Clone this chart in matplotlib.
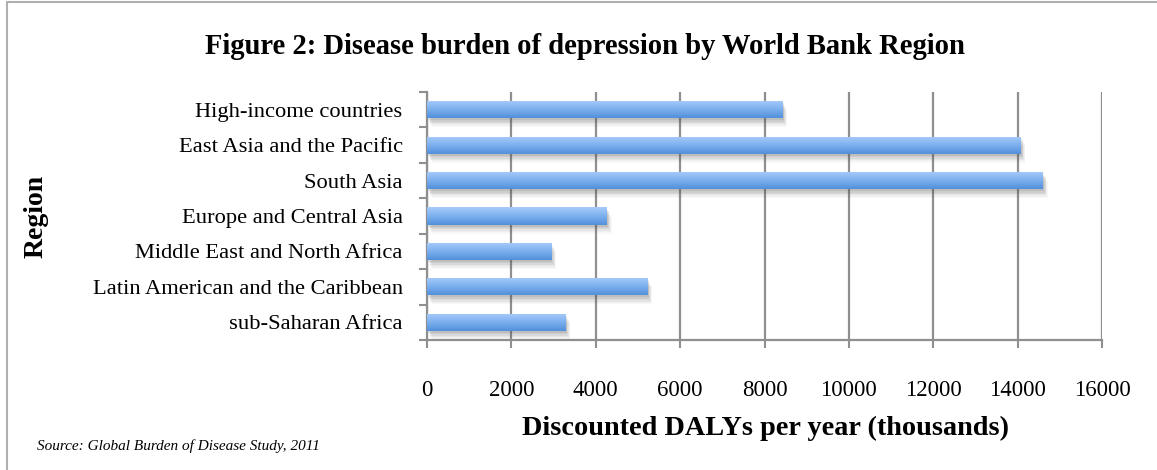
import numpy as np
import matplotlib
matplotlib.use("Agg")
import matplotlib.pyplot as plt
from matplotlib.colors import LinearSegmentedColormap
from matplotlib.patheffects import SimplePatchShadow, Normal
from matplotlib.patches import Rectangle

regions = ["High-income countries", "East Asia and the Pacific", "South Asia",
           "Europe and Central Asia", "Middle East and North Africa",
           "Latin American and the Caribbean", "sub-Saharan Africa"]
dalys = [8420, 14070, 14600, 4260, 2940, 5220, 3280]
xticks = [0, 2000, 4000, 6000, 8000, 10000, 12000, 14000, 16000]

title = "Figure 2: Disease burden of depression by World Bank Region"
xlabel = "Discounted DALYs per year (thousands)"
ylabel = "Region"
source = "Source: Global Burden of Disease Study, 2011"

serif = ["Liberation Serif", "DejaVu Serif"]
plt.rcParams['font.family'] = serif

W, H = 1157, 470
fig = plt.figure(figsize=(W / 100, H / 100), dpi=100)
ax = fig.add_axes([427 / W, 1 - 340 / H, (1102 - 427) / W, (340 - 92) / H])

grid_col = "#8f8f8f"
n = len(regions)
ypos = np.arange(n)[::-1]

shadows = []
for dx, dy, a in [(1.0, -1.5, 0.10), (1.5, -2.5, 0.09), (2.0, -3.5, 0.08),
                  (2.5, -4.5, 0.06), (3.0, -5.5, 0.05), (3.5, -6.5, 0.035)]:
    shadows.append(SimplePatchShadow(offset=(dx, dy), shadow_rgbFace="#505050", alpha=a))
bars = ax.barh(ypos, dalys, height=0.48, color="#6fa6e6", zorder=3,
               path_effects=shadows + [Normal()])
cmap = LinearSegmentedColormap.from_list("bar", ["#5190da", "#7cb0ee", "#a8ccfb"])
grad = np.linspace(0, 1, 64).reshape(-1, 1)
for b in bars:
    x0, y0 = b.get_x(), b.get_y()
    w, h = b.get_width(), b.get_height()
    im = ax.imshow(grad, extent=(x0, x0 + w, y0, y0 + h), origin="lower",
                   cmap=cmap, aspect="auto", zorder=4, interpolation="bicubic")
    im.set_clip_path(b)

ax.set_xlim(0, 16000)
ax.set_ylim(-0.5, n - 0.5)
ax.set_xticks(xticks)
ax.set_xticklabels([str(v) for v in xticks], fontsize=16.5)
ax.set_yticks(ypos)
ax.set_yticklabels(regions, fontsize=16.2)
ax.set_yticks(np.arange(-0.5, n, 1.0), minor=True)
ax.tick_params(axis="y", which="major", length=0, pad=17.5)
ax.tick_params(axis="y", which="minor", length=6, width=1.5, color=grid_col, direction="out")
ax.tick_params(axis="x", which="major", length=6, width=1.5, color=grid_col, direction="out", pad=23)

ax.grid(axis="x", color=grid_col, linewidth=1.6, zorder=1)
ax.set_axisbelow(True)
for s in ["top", "right"]:
    ax.spines[s].set_visible(False)
for s in ["left", "bottom"]:
    ax.spines[s].set_color(grid_col)
    ax.spines[s].set_linewidth(1.6)

fig.text(585 / W, 1 - 47 / H, title, ha="center", va="center", fontsize=20.6, fontweight="bold")
fig.text(765 / W, 1 - 428 / H, xlabel, ha="center", va="center", fontsize=20.3, fontweight="bold")
fig.text(36 / W, 1 - 216 / H, ylabel, ha="center", va="center", fontsize=20, fontweight="bold",
         rotation=90)
fig.text(37 / W, 1 - 446 / H, source, ha="left", va="center", fontsize=11, fontstyle="italic")

fig.patches.append(Rectangle((7 / W, -0.1), 1.2, 1.1 - 1.5 / H, transform=fig.transFigure,
                             fill=False, edgecolor="#b0b0b0", linewidth=1.5))

fig.savefig("out.png", dpi=100)
